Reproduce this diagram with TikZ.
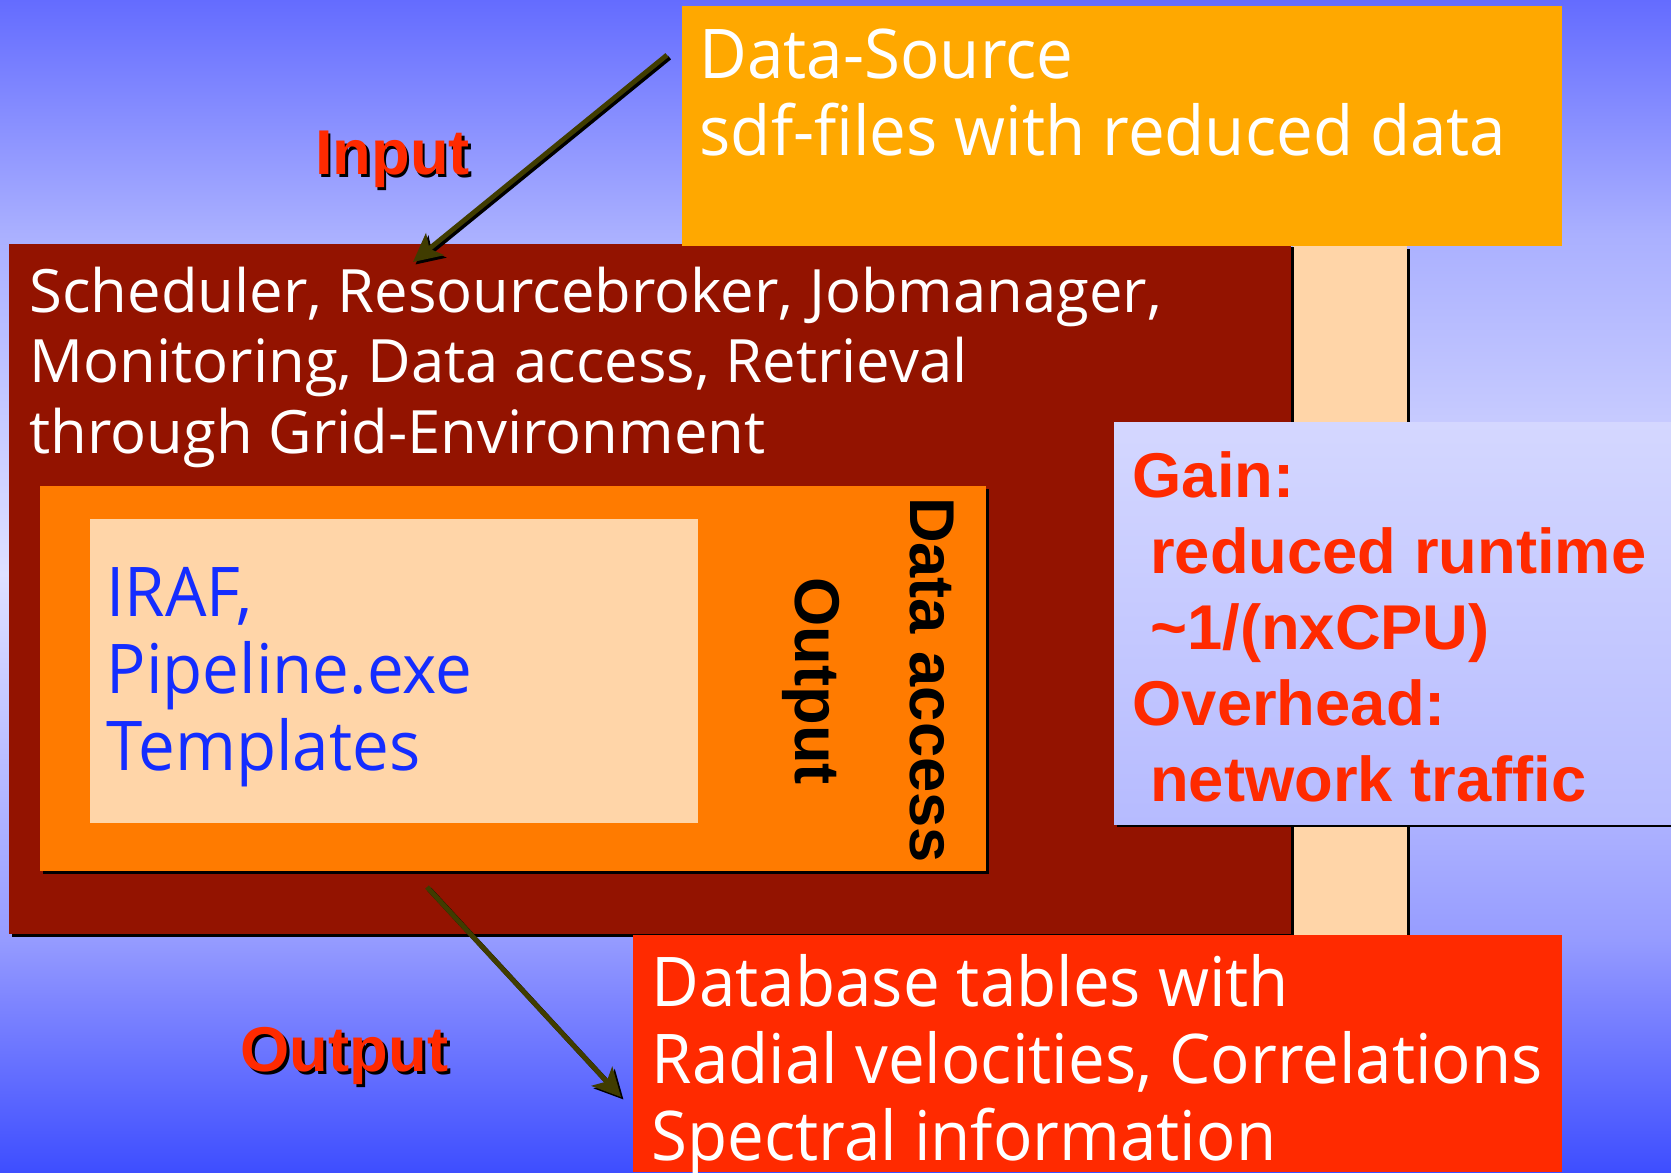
\documentclass[tikz,border=0pt]{standalone}
\usepackage{fontspec}
\setmainfont{Open Sans}
\newfontfamily\bigsans{Open Sans}[FakeStretch=0.955]
\newfontfamily\helv{Liberation Sans}
\usepackage{tikz}
\usetikzlibrary{arrows.meta}

\definecolor{gridred}{RGB}{147,19,0}
\definecolor{boxorange}{RGB}{255,123,0}
\definecolor{peach}{RGB}{255,213,168}
\definecolor{srcorange}{RGB}{255,168,0}
\definecolor{dbred}{RGB}{255,42,0}
\definecolor{irafblue}{RGB}{20,45,255}
\definecolor{olive}{RGB}{64,60,0}
\definecolor{gaintop}{RGB}{212,215,255}
\definecolor{gainbot}{RGB}{182,187,255}
\definecolor{bga}{RGB}{62,78,255}
\definecolor{bgb}{RGB}{128,135,255}
\definecolor{bgc}{RGB}{150,156,255}
\definecolor{bgd}{RGB}{222,224,255}
\definecolor{bge}{RGB}{170,176,255}
\definecolor{bgf}{RGB}{100,108,255}

% tikz fits the path to the 25bp--75bp band of a shading
\pgfdeclareverticalshading{slidebg}{100bp}{
	color(0bp)=(bga); color(25bp)=(bga); color(32.5bp)=(bgb); color(35bp)=(bgc);
	color(50.5bp)=(bgd); color(65bp)=(bge); color(75bp)=(bgf); color(100bp)=(bgf)}

\begin{document}
\begin{tikzpicture}[x=0.01cm, y=-0.01cm,
	bigtext/.style={anchor=base west, align=left, inner sep=0pt,
		font=\bigsans\fontsize{19.5}{21.8}\selectfont},
	gridtext/.style={anchor=base west, align=left, inner sep=0pt, text=white,
		font=\fontsize{17}{20.05}\selectfont},
	boldlabel/.style={inner sep=0pt, font=\helv\bfseries\fontsize{18}{21.6}\selectfont},
	vlabel/.style={boldlabel, rotate=-90, anchor=base},
	flow/.style={line width=1.4pt, -{Stealth[length=8pt, width=8pt, inset=2pt]}}]
	\useasboundingbox (0,0) rectangle (1671,1172);
	\shade[shading=slidebg] (0,0) rectangle (1671,1172);

	% boxes
	\fill[black] (1296,249) rectangle (1410,935);
	\fill[peach] (1293,246) rectangle (1407,935);
	\fill[black] (12,247) rectangle (1294,937);
	\fill[gridred] (9,244) rectangle (1291,934);
	\fill[srcorange] (682,6) rectangle (1562,246);
	\fill[black] (1117,425) rectangle (1671,827);
	\shade[top color=gaintop, bottom color=gainbot] (1114,422) rectangle (1671,824);
	\fill[black] (43,489) rectangle (989,874);
	\fill[boxorange] (40,486) rectangle (986,871);
	\fill[peach] (90,519) rectangle (698,823);
	\fill[dbred] (633,935) rectangle (1562,1172);

	% texts (base = last line)
	\node[bigtext, text=white] (src) at (699,155) {Data-Source\\sdf-files with reduced data};
	\node[gridtext] (grid) at (29,453) {Scheduler, Resourcebroker, Jobmanager,\\Monitoring, Data access, Retrieval\\through Grid-Environment};
	\node[bigtext, text=irafblue] (iraf) at (106,770) {IRAF,\\Pipeline.exe\\Templates};
	\node[vlabel] (access) at (910,680) {Data access};
	\node[vlabel] (out) at (795,681) {Output};
	\node[boldlabel, anchor=base west, align=left, text=dbred] (gain) at (1132,801)
		{Gain:\\\ reduced runtime\\\ \textasciitilde1/(nxCPU)\\Overhead:\\\ network traffic};
	\node[bigtext, text=white] (db) at (651,1160) {Database tables with\\Radial velocities, Correlations\\Spectral information};
	\node[boldlabel, anchor=base west, text=black] (inshadow) at (317,177) {Input};
	\node[boldlabel, anchor=base west, text=dbred] (input) at (314.5,174) {Input};
	\node[boldlabel, anchor=base west, text=black] (outshadow) at (243,1074) {Output};
	\node[boldlabel, anchor=base west, text=dbred] (output) at (240,1071) {Output};

	% arrows
	\coordinate (ina) at (667,55);
	\coordinate (inb) at (413,262);
	\coordinate (outa) at (427,887);
	\coordinate (outb) at (621,1097);
	\draw[flow, black, transform canvas={shift={(0.7pt,-0.7pt)}}] (ina) -- (inb);
	\draw[flow, olive] (ina) -- (inb);
	\draw[flow, black, transform canvas={shift={(0.7pt,-0.7pt)}}] (outa) -- (outb);
	\draw[flow, olive] (outa) -- (outb);
\end{tikzpicture}
\end{document}
